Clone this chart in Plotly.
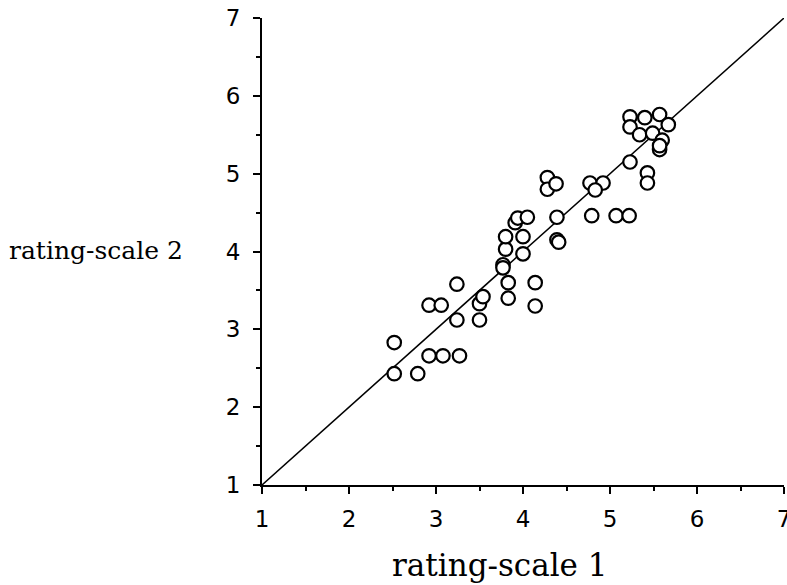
import plotly.graph_objects as go

# Data
rating_scale_1 = [2.52, 2.52, 2.79, 2.92, 3.08, 3.27, 2.92, 3.06, 3.24, 3.24,
                  3.50, 3.50, 3.54, 3.77, 3.77, 3.83, 3.83, 4.14, 4.14, 3.80,
                  3.80, 4.00, 4.00, 3.91, 3.94, 4.05, 4.39, 4.39, 4.41, 4.28,
                  4.28, 4.38, 4.77, 4.92, 4.83, 4.79, 5.07, 5.22, 5.23, 5.43,
                  5.43, 5.23, 5.40, 5.57, 5.67, 5.23, 5.34, 5.49, 5.60, 5.57,
                  5.57]
rating_scale_2 = [2.83, 2.43, 2.43, 2.66, 2.66, 2.66, 3.31, 3.31, 3.58, 3.12,
                  3.12, 3.33, 3.42, 3.83, 3.79, 3.60, 3.40, 3.60, 3.30, 4.03,
                  4.19, 4.19, 3.97, 4.37, 4.43, 4.44, 4.44, 4.15, 4.12, 4.95,
                  4.80, 4.87, 4.88, 4.88, 4.79, 4.46, 4.46, 4.46, 5.15, 5.01,
                  4.88, 5.73, 5.72, 5.76, 5.63, 5.60, 5.50, 5.52, 5.43, 5.31,
                  5.36]
identity_line = [1, 7]
tick_values = [1, 2, 3, 4, 5, 6, 7]
x_title = "rating-scale 1"
y_title = "rating-scale 2"

fig = go.Figure()
fig.add_trace(go.Scatter(x=identity_line, y=identity_line, mode="lines",
                         line=dict(color="black", width=1.5),
                         showlegend=False, hoverinfo="skip"))
fig.add_trace(go.Scatter(x=rating_scale_1, y=rating_scale_2, mode="markers",
                         marker=dict(symbol="circle", size=13.5, color="white",
                                     line=dict(color="black", width=2.2)),
                         showlegend=False, cliponaxis=False))

axis_common = dict(range=[1, 7], tickmode="array", tickvals=tick_values,
                   showgrid=False, zeroline=False, showline=True,
                   linecolor="black", linewidth=2, ticks="outside",
                   ticklen=7, tickwidth=2, tickcolor="black",
                   ticklabeloverflow="allow", automargin=False,
                   tickfont=dict(family="DejaVu Sans", size=23, color="black"),
                   minor=dict(dtick=0.5, ticks="outside", ticklen=4,
                              tickwidth=2, tickcolor="black"))

fig.update_layout(
    width=787, height=585,
    margin=dict(l=262, r=3, t=18, b=100, autoexpand=False),
    paper_bgcolor="white", plot_bgcolor="white",
    xaxis=dict(**axis_common, ticklabelstandoff=5),
    yaxis=dict(**axis_common, ticklabelstandoff=8),
    annotations=[
        dict(text=x_title, xref="paper", yref="paper", x=0.455, y=-0.172,
             showarrow=False, xanchor="center", yanchor="middle",
             font=dict(family="DejaVu Serif", size=31, color="black")),
        dict(text=y_title, xref="paper", yref="paper", x=-0.318, y=0.503,
             showarrow=False, xanchor="center", yanchor="middle",
             font=dict(family="DejaVu Serif", size=25, color="black")),
    ],
)

fig.write_html("out.html")
